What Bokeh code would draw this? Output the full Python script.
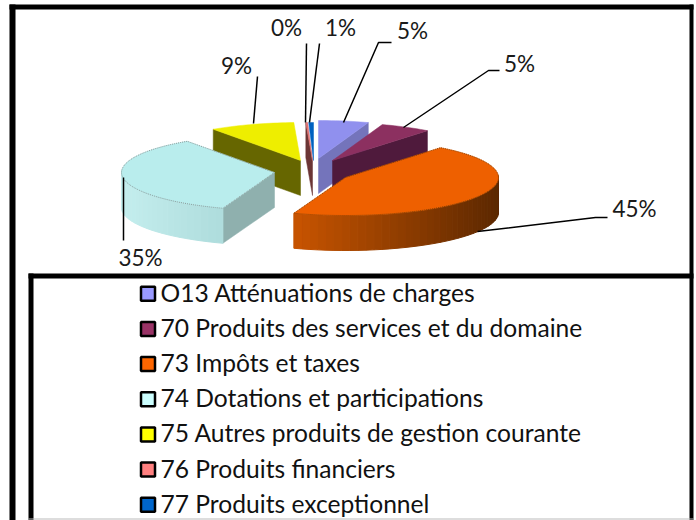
import math
from bokeh.plotting import figure
from bokeh.embed import file_html
from bokeh.resources import INLINE
from bokeh.core.properties import value

# ---- data ----
categories = ["O13 Atténuations de charges", "70 Produits des services et du domaine",
              "73 Impôts et taxes", "74 Dotations et participations",
              "75 Autres produits de gestion courante", "76 Produits financiers",
              "77 Produits exceptionnel"]
shares = [5.3, 5.4, 45, 35, 9, 0.2, 0.5]
share_labels = ["5%", "5%", "45%", "35%", "9%", "0%", "1%"]
legend_colors = ["#9999ff", "#993366", "#ff6600", "#ccffff", "#ffff00", "#ff8080", "#0066cc"]
top_colors = ["#9090ee", "#8c3060", "#ee6000", "#b9eded", "#eeee00", "#e07070", "#0060c0"]
face_colors = ["#7474bb", "#4f1a3c", None, "#8fb0ae", "#666600", "#6b3535", None]
wall_stops = [("#7474bb",) * 2, ("#4f1a3c",) * 2, ("#c85400", "#5c2800"), ("#c4eeee", "#aedcdc"),
              ("#666600",) * 2, ("#6b3535",) * 2, ("#004a90",) * 2]

# ---- pie geometry (page pixels) ----
centres = [(318, 158), (332, 160), (345, 177), (274, 172), (300, 160), (312, 160), (313, 160)]
RX, RY, DEPTH = 153, 38, 35
face_edge = ["end", "end", None, "start", "start", "start", None]
draw_order = [5, 6, 4, 3, 0, 1, 2]

W, H = 696, 520
p = figure(width=W, height=H, x_range=(0, W), y_range=(H, 0), toolbar_location=None,
           output_backend="svg", min_border=0, outline_line_color=None,
           background_fill_color="white", border_fill_color="white")
p.margin = (0, 0, 0, 0)
p.axis.visible = False
p.grid.visible = False


def rim(c, deg):
    t = math.radians(deg)
    return c[0] + RX * math.sin(t), c[1] - RY * math.cos(t)


def mix(a, b, f):
    ca = [int(a[i:i + 2], 16) for i in (1, 3, 5)]
    cb = [int(b[i:i + 2], 16) for i in (1, 3, 5)]
    return "#%02x%02x%02x" % tuple(round(x + (y - x) * f) for x, y in zip(ca, cb))


total = sum(shares)
bounds, acc = [], 0.0
for s in shares:
    bounds.append((acc / total * 360, (acc + s) / total * 360))
    acc += s

for i in draw_order:
    c = centres[i]
    a0, a1 = bounds[i]
    # cut face
    if face_edge[i]:
        deg = a1 if face_edge[i] == "end" else a0
        rx, ry = rim(c, deg)
        p.patch([c[0], rx, rx, c[0]], [c[1], ry, ry + DEPTH, c[1] + DEPTH],
                fill_color=face_colors[i], line_color=face_colors[i], line_width=0.5)
    # outer wall in shaded bands
    steps = max(2, int((a1 - a0) / 3))
    degs = [a0 + (a1 - a0) * k / steps for k in range(steps + 1)]
    xl = min(rim(c, d)[0] for d in degs)
    xr = max(rim(c, d)[0] for d in degs)
    for d0, d1 in zip(degs[:-1], degs[1:]):
        if math.cos(math.radians((d0 + d1) / 2)) > 0.05:
            continue
        x0, y0 = rim(c, d0)
        x1, y1 = rim(c, d1)
        frac = ((x0 + x1) / 2 - xl) / max(1, xr - xl)
        col = mix(wall_stops[i][0], wall_stops[i][1], frac)
        p.patch([x0, x1, x1, x0], [y0, y1, y1 + DEPTH, y0 + DEPTH],
                fill_color=col, line_color=col, line_width=1)
    # top surface
    fine = max(6, int((a1 - a0) / 1.5))
    pts = [rim(c, a0 + (a1 - a0) * k / fine) for k in range(fine + 1)]
    xs = [c[0]] + [q[0] for q in pts]
    ys = [c[1]] + [q[1] for q in pts]
    p.patch(xs, ys, fill_color=top_colors[i], line_color=top_colors[i], line_width=0.5)
    outline = "#8a9a9a" if i == 3 else ("#8a4000" if i == 2 else None)
    if outline:
        p.line(xs + xs[:1], ys + ys[:1], line_color=outline, line_width=1, line_dash="1 1")

# ---- leader lines and data labels ----
leaders = [
    ([391, 378, 343], [42, 42, 122]),
    ([499, 488, 403], [70, 70, 127]),
    ([607, 595, 477], [217, 217, 231]),
    ([123, 123], [240, 177]),
    ([257, 253], [76, 123]),
    ([306, 305], [43, 122]),
    ([319, 309], [43, 122]),
]
label_pos = [(412, 30), (519, 63), (634, 208), (140, 257), (236, 65), (286, 27), (340, 27)]
for xs, ys in leaders:
    p.line(xs, ys, line_color="black", line_width=1.5)
p.text([q[0] for q in label_pos], [q[1] for q in label_pos], text=share_labels,
       text_font=value("Lato"), text_font_size="22.5px", text_color="#1a1a1a",
       text_align="center", text_baseline="middle")

# ---- frames ----
p.quad(left=[9, 9, 689, 28, 28, 28], right=[15, 693, 693, 33, 693, 693],
       top=[4, 4, 4, 273, 273, 518], bottom=[520, 9, 520, 520, 278, 519],
       fill_color=["black"] * 5 + ["#bbbbbb"], line_color=None)

# ---- legend ----
first_y, step_y = 293.3, 35.15
ly = [first_y + step_y * k for k in range(len(categories))]
p.rect([147.5] * len(ly), ly, width=14, height=14, fill_color=legend_colors,
       line_color="black", line_width=2.5)
p.text([160] * len(ly), [y - 1.5 for y in ly], text=categories, text_font=value("Lato"),
       text_font_size="24.6px", text_color="#111111", text_align="left", text_baseline="middle")

open("out.html", "w").write(file_html(p, INLINE))
